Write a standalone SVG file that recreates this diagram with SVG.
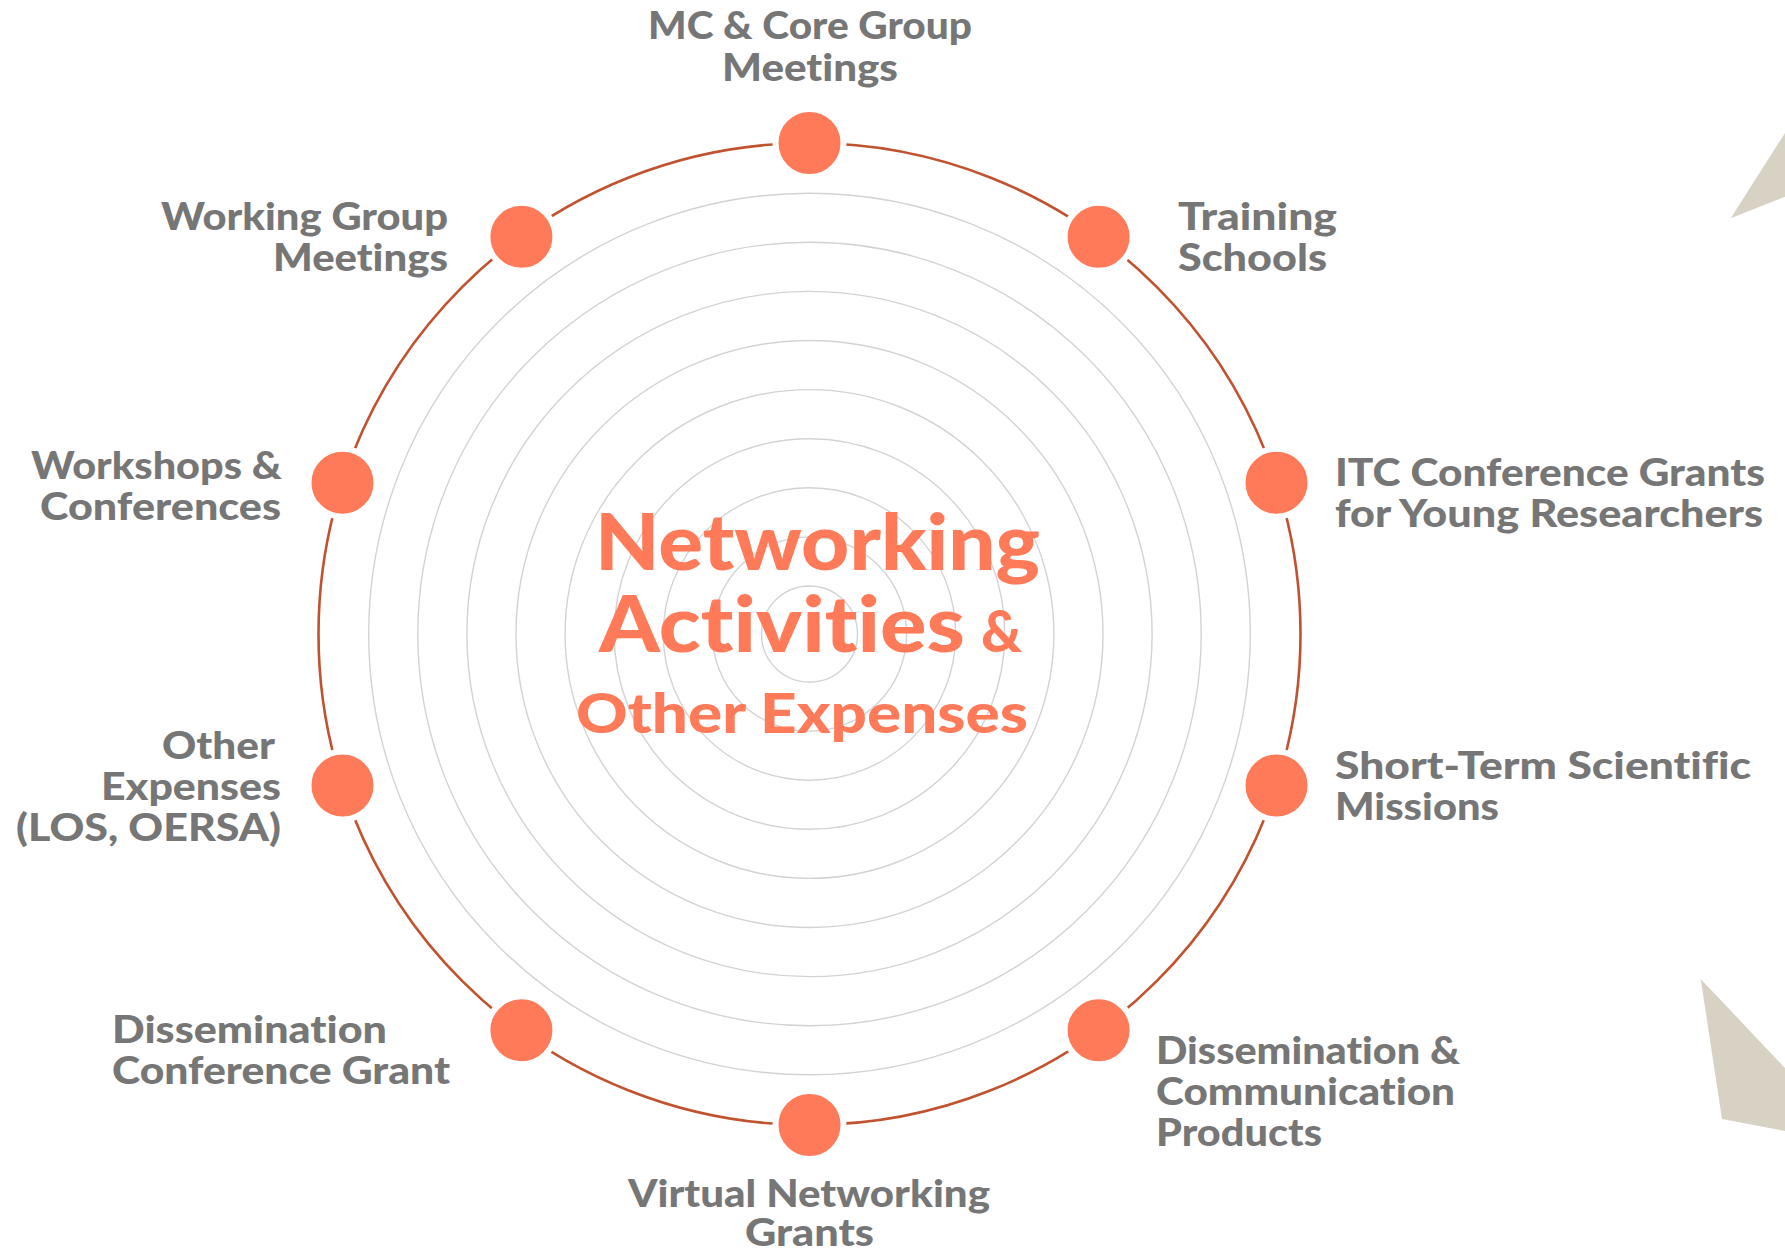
<svg xmlns="http://www.w3.org/2000/svg" width="1785" height="1252" viewBox="0 0 1785 1252">
<style>
.ring{fill:none;stroke:#D3D3D3;stroke-width:1.4}
.outer{fill:none;stroke:#C1522F;stroke-width:2.6}
.dot{fill:#FF7A59;stroke:#FFFFFF;stroke-width:6}
text{font-variant-ligatures:none;font-feature-settings:"liga" 0,"dlig" 0,"clig" 0}
.lbl{font-family:Lato,"Open Sans",sans-serif;font-weight:900;font-size:37px;fill:#767676}
.title{font-family:Lato,"Open Sans",sans-serif;font-weight:900;fill:#FF7A59}
.deco{fill:#D8D2C5}
</style>
<rect width="1785" height="1252" fill="#FFFFFF"/>
<g id="decor">
<polygon class="deco" points="1730.7,218.3 1785,133 1785,196.7"/>
<polygon class="deco" points="1700.7,979 1785,1068 1785,1131 1722,1119"/>
</g>
<g id="rings">
<circle class="ring" cx="809.5" cy="634" r="48"/>
<circle class="ring" cx="809.5" cy="634" r="97.1"/>
<circle class="ring" cx="809.5" cy="634" r="146.2"/>
<circle class="ring" cx="809.5" cy="634" r="195.3"/>
<circle class="ring" cx="809.5" cy="634" r="244.4"/>
<circle class="ring" cx="809.5" cy="634" r="293.5"/>
<circle class="ring" cx="809.5" cy="634" r="342.6"/>
<circle class="ring" cx="809.5" cy="634" r="391.7"/>
<circle class="ring" cx="809.5" cy="634" r="440.8"/>
</g>
<g id="connectors">
<circle class="outer" cx="809.5" cy="634" r="491"/>
</g>
<g id="center">
<text class="title" x="595" y="570" font-size="78" textLength="445" lengthAdjust="spacingAndGlyphs">Networking</text>
<text class="title" x="599" y="652" font-size="78" textLength="366" lengthAdjust="spacingAndGlyphs">Activities</text>
<text class="title" x="981" y="652" font-size="58" textLength="41" lengthAdjust="spacingAndGlyphs">&amp;</text>
<text class="title" x="576" y="733" font-size="56" textLength="452" lengthAdjust="spacingAndGlyphs">Other Expenses</text>
</g>
<g id="n-mc">
<circle class="dot" cx="809.5" cy="143" r="34"/>
<text class="lbl" x="648" y="39" textLength="324" lengthAdjust="spacingAndGlyphs">MC &amp; Core Group</text>
<text class="lbl" x="722" y="81" textLength="176" lengthAdjust="spacingAndGlyphs">Meetings</text>
</g>
<g id="n-training">
<circle class="dot" cx="1098.6" cy="236.8" r="34"/>
<text class="lbl" x="1178" y="230" textLength="159" lengthAdjust="spacingAndGlyphs">Training</text>
<text class="lbl" x="1178" y="271" textLength="149" lengthAdjust="spacingAndGlyphs">Schools</text>
</g>
<g id="n-itc">
<circle class="dot" cx="1276.5" cy="482.7" r="34"/>
<text class="lbl" x="1335" y="486" textLength="430" lengthAdjust="spacingAndGlyphs">ITC Conference Grants</text>
<text class="lbl" x="1335" y="527" textLength="428" lengthAdjust="spacingAndGlyphs">for Young Researchers</text>
</g>
<g id="n-stsm">
<circle class="dot" cx="1276.5" cy="785.5" r="34"/>
<text class="lbl" x="1335" y="779" textLength="416" lengthAdjust="spacingAndGlyphs">Short-Term Scientific</text>
<text class="lbl" x="1335" y="820" textLength="164" lengthAdjust="spacingAndGlyphs">Missions</text>
</g>
<g id="n-dcp">
<circle class="dot" cx="1098.6" cy="1030.3" r="34"/>
<text class="lbl" x="1156" y="1064" textLength="304" lengthAdjust="spacingAndGlyphs">Dissemination &amp;</text>
<text class="lbl" x="1156" y="1105" textLength="299" lengthAdjust="spacingAndGlyphs">Communication</text>
<text class="lbl" x="1156" y="1146" textLength="166" lengthAdjust="spacingAndGlyphs">Products</text>
</g>
<g id="n-vng">
<circle class="dot" cx="809.5" cy="1125" r="34"/>
<text class="lbl" x="628" y="1207" textLength="362" lengthAdjust="spacingAndGlyphs">Virtual Networking</text>
<text class="lbl" x="745" y="1246" textLength="129" lengthAdjust="spacingAndGlyphs">Grants</text>
</g>
<g id="n-dcg">
<circle class="dot" cx="521.4" cy="1030.3" r="34"/>
<text class="lbl" x="112" y="1043" textLength="275" lengthAdjust="spacingAndGlyphs">Dissemination</text>
<text class="lbl" x="112" y="1084" textLength="338" lengthAdjust="spacingAndGlyphs">Conference Grant</text>
</g>
<g id="n-other">
<circle class="dot" cx="342.5" cy="785.5" r="34"/>
<text class="lbl" x="162" y="759" textLength="113" lengthAdjust="spacingAndGlyphs">Other</text>
<text class="lbl" x="101" y="800" textLength="180" lengthAdjust="spacingAndGlyphs">Expenses</text>
<text class="lbl" x="16" y="841" textLength="265" lengthAdjust="spacingAndGlyphs">(LOS, OERSA)</text>
</g>
<g id="n-workshops">
<circle class="dot" cx="342.5" cy="482.7" r="34"/>
<text class="lbl" x="31" y="479" textLength="251" lengthAdjust="spacingAndGlyphs">Workshops &amp;</text>
<text class="lbl" x="40" y="520" textLength="241" lengthAdjust="spacingAndGlyphs">Conferences</text>
</g>
<g id="n-wg">
<circle class="dot" cx="521.4" cy="236.8" r="34"/>
<text class="lbl" x="161" y="230" textLength="287" lengthAdjust="spacingAndGlyphs">Working Group</text>
<text class="lbl" x="273" y="271" textLength="175" lengthAdjust="spacingAndGlyphs">Meetings</text>
</g>
</svg>
